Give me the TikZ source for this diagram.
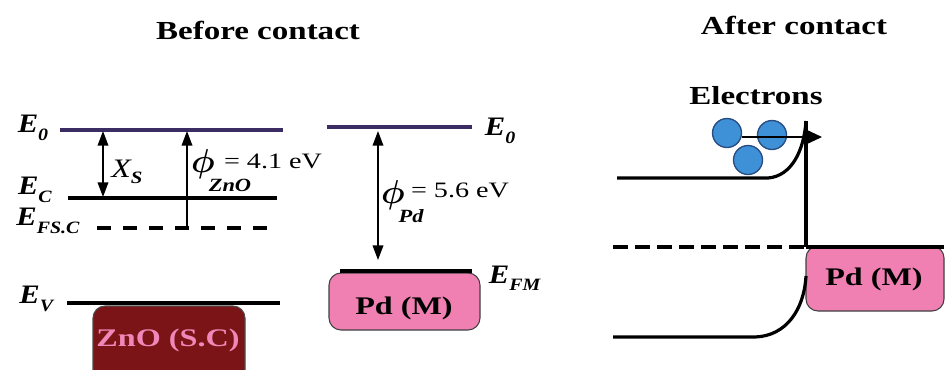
\documentclass[tikz,border=0pt]{standalone}
\usepackage{fontspec}
\setmainfont{Liberation Serif}
\usetikzlibrary{arrows.meta}
\definecolor{purp}{RGB}{60,44,100}
\definecolor{znofill}{RGB}{122,20,22}
\definecolor{znotext}{RGB}{240,135,185}
\definecolor{pdfill}{RGB}{240,128,178}
\definecolor{elfill}{RGB}{62,145,214}
\definecolor{eldraw}{RGB}{40,75,130}
\newcommand\ElabX[1]{\textbf{\textit{E}}\raisebox{-0.6ex}{\fontsize{13}{13}\selectfont\textbf{\textit{#1}}}}
\tikzset{
  title/.style={font=\fontsize{19.5}{20}\selectfont\bfseries, xscale=1.27, inner sep=0pt},
  elab/.style={font=\fontsize{20}{22}\selectfont, xscale=1.15, inner sep=0pt},
  lvl/.style={line width=2.4pt},
  plvl/.style={line width=2.4pt, draw=purp},
  barr/.style={line width=1.1pt, {Triangle[length=11pt,width=8pt]}-{Triangle[length=11pt,width=8pt]}},
  sarr/.style={line width=1.1pt, -{Triangle[length=11pt,width=8pt]}},
  bandbox/.style={rounded corners=9pt, line width=0.8pt},
  boxtext/.style={font=\fontsize{19}{20}\selectfont\bfseries, xscale=1.27, inner sep=0pt},
  val/.style={font=\fontsize{16.5}{18}\selectfont, xscale=1.28, inner sep=0pt},
  sub/.style={font=\fontsize{14}{15}\selectfont\bfseries\itshape, xscale=1.2, inner sep=0pt},
  phi/.style={font=\fontsize{28}{30}\selectfont\boldmath, inner sep=0pt},
  elec/.style={circle, fill=elfill, draw=eldraw, line width=1pt, minimum size=29pt*0.75, inner sep=0pt},
}
\begin{document}
\begin{tikzpicture}[x=0.75pt,y=-0.75pt]
\useasboundingbox (0,0) rectangle (945,369);
% titles
\node[title] (t1) at (258,30) {Before contact};
\node[title] (t2) at (794,25) {After contact};

% ---------- ZnO before contact ----------
\coordinate (e0a) at (60,130); \coordinate (e0b) at (283,130);
\coordinate (eca) at (68,198); \coordinate (ecb) at (277,198);
\coordinate (efa) at (97,228); \coordinate (efb) at (273,228);
\coordinate (eva) at (67,303); \coordinate (evb) at (280,303);
\draw[plvl] (e0a) -- (e0b);
\draw[lvl] (eca) -- (ecb);
\draw[lvl, dash pattern=on 14pt*0.75 off 12pt*0.75] (efa) -- (efb);
\draw[lvl] (eva) -- (evb);

\node[elab] (le0) at (33,128) {\ElabX{0}};
\node[elab] (lec) at (35,190) {\ElabX{C}};
\node[elab] (lef) at (48,221) {\ElabX{FS.C}};
\node[elab] (lev) at (37,299) {\ElabX{V}};

% ZnO box
\draw[bandbox, fill=znofill, draw=black!70] (93,306) rectangle (245,385);
\draw[line width=3pt] (103,303) -- (233,303);
\node[boxtext, text=znotext] (zno) at (168,340) {ZnO (S.C)};

% arrows
\coordinate (xs1) at (103,131); \coordinate (xs2) at (103,197);
\draw[barr] (xs1) -- (xs2);
\node[font=\fontsize{20}{22}\selectfont\itshape, xscale=1.2, inner sep=0pt] (xs) at (127,172) {X\raisebox{-0.5ex}{\fontsize{13}{13}\selectfont\bfseries\itshape S}};
\coordinate (pz1) at (187,228); \coordinate (pz2) at (187,131);
\draw[sarr] (pz1) -- (pz2);
\node[phi] (phz) at (203,164) {$\phi$};
\node[val] (vz) at (273,161) {= 4.1 eV};
\node[sub] (sz) at (230,185) {ZnO};

% ---------- Pd before contact ----------
\coordinate (p0a) at (327,127); \coordinate (p0b) at (472,127);
\draw[plvl] (p0a) -- (p0b);
\node[elab] (lp0) at (500,131) {\ElabX{0}};
\coordinate (pp1) at (378,131); \coordinate (pp2) at (378,260);
\draw[barr] (pp1) -- (pp2);
\node[phi] (php) at (393,195) {$\phi$};
\node[val] (vp) at (460,190) {= 5.6 eV};
\node[sub] (sp) at (411,216) {Pd};
\draw[bandbox, fill=pdfill, draw=black!75] (329,273) rectangle (480,330);
\draw[line width=3pt] (340,271) -- (472,271);
\node[boxtext] (pd1) at (404,308) {Pd (M)};
\node[elab] (lfm) at (515,278) {\ElabX{FM}};

% ---------- After contact ----------
\node[title] (el) at (756,96) {Electrons};
\coordinate (cba) at (617,178); \coordinate (cbb) at (768,178);
\coordinate (top) at (806,121); \coordinate (fl) at (806,247);
\draw[lvl] (cba) -- (cbb) .. controls (792,176) and (804,150) .. (top);
\draw[lvl] (top) -- (fl);
\coordinate (dfa) at (613,247); \coordinate (dfb) at (804,247);
\draw[lvl, dash pattern=on 15pt*0.75 off 7pt*0.75] (dfa) -- (dfb);
\draw[bandbox, fill=pdfill, draw=black!75] (806,246) rectangle (944,311);
\draw[line width=2.4pt] (806,247) -- (944,247);
\node[boxtext] (pd2) at (874,279) {Pd (M)};
\coordinate (vba) at (613,337); \coordinate (vbb) at (755,337);
\coordinate (vbt) at (806,276);
\draw[lvl] (vba) -- (vbb) .. controls (786,336) and (804,310) .. (vbt);

\node[elec] (c1) at (727,133) {};
\node[elec] (c2) at (772,135) {};
\node[elec] (c3) at (748,160) {};
\coordinate (as) at (742,137);
\coordinate (ae) at (822,137);
\draw[line width=1.1pt, -{Triangle[length=12pt,width=11pt]}] (as) -- (ae);
\end{tikzpicture}
\end{document}
